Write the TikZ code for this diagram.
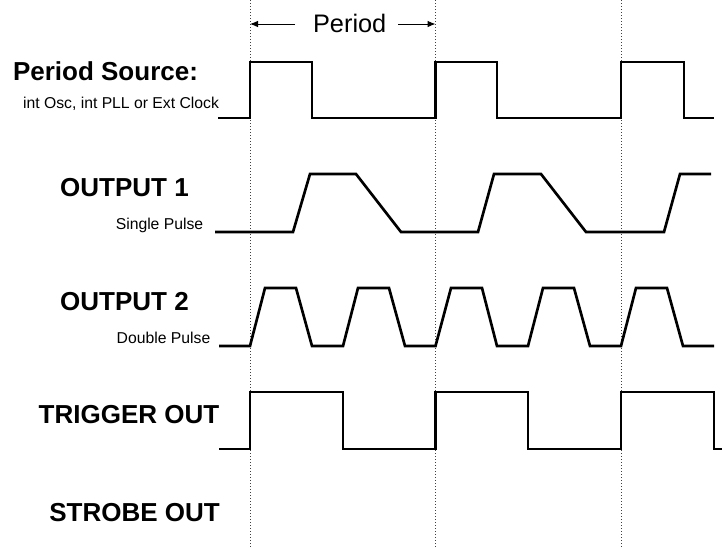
\documentclass[tikz,border=0pt]{standalone}
\usepackage{fontspec}
\setmainfont{Liberation Sans}
\usetikzlibrary{arrows.meta}
\begin{document}
\begin{tikzpicture}[x=0.75pt,y=-0.75pt,
  wave/.style={line width=2pt, line join=miter},
  gridline/.style={line width=0.75pt, dash pattern=on 0.75pt off 1.5pt, black!75},
  big/.style={font=\bfseries\fontsize{19.5}{23}\selectfont, inner sep=0pt, anchor=base},
  small/.style={font=\fontsize{11.8}{14}\selectfont, inner sep=0pt, anchor=base},
  per/.style={font=\fontsize{19}{22}\selectfont, inner sep=0pt, anchor=base},
  parrow/.style={line width=0.75pt, -{Latex[length=6pt,width=5pt]}}
]
\useasboundingbox (0,0) rectangle (722,547);

% period markers
\coordinate (d1t) at (250,0);   \coordinate (d1b) at (250,547);
\coordinate (d2t) at (435.5,0); \coordinate (d2b) at (435.5,547);
\coordinate (d3t) at (621,0);   \coordinate (d3b) at (621,547);
\draw[gridline] (d1t) -- (d1b);
\draw[gridline] (d2t) -- (d2b);
\draw[gridline] (d3t) -- (d3b);

% period dimension
\node[per] (per) at (349.7,32) {Period};
\coordinate (pl) at (295,24);  \coordinate (pla) at (250,24);
\coordinate (pr) at (398,24);  \coordinate (pra) at (435.5,24);
\draw[parrow] (pl) -- (pla);
\draw[parrow] (pr) -- (pra);

% labels
\node[big] (lsrc) at (105.5,80) {Period Source:};
\node[small] (lsrcs) at (121,108) {int Osc, int PLL or Ext Clock};
\node[big] (lo1) at (124.5,196) {OUTPUT 1};
\node[small] (lo1s) at (159.5,229) {Single Pulse};
\node[big] (lo2) at (124.5,310) {OUTPUT 2};
\node[small] (lo2s) at (163.5,343) {Double Pulse};
\node[big] (ltrg) at (129,423) {TRIGGER OUT};
\node[big] (lstb) at (134.5,521) {STROBE OUT};

% Period source
\draw[wave] (218,118) -- (250,118) -- (250,62) -- (312,62) -- (312,118)
  -- (435.5,118) -- (435.5,62) -- (497,62) -- (497,118)
  -- (621,118) -- (621,62) -- (684,62) -- (684,118) -- (714,118);

% Output 1
\draw[wave] (215,232) -- (293,232) -- (310,174) -- (356,174) -- (401,232)
  -- (478,232) -- (494,174) -- (541,174) -- (586,232)
  -- (664,232) -- (680,174) -- (711,174);

% Output 2
\draw[wave] (219,346) -- (250,346) -- (265,288) -- (296,288) -- (312,346)
  -- (343,346) -- (358,288) -- (389,288) -- (405,346)
  -- (435.5,346) -- (451,288) -- (482,288) -- (497,346)
  -- (528,346) -- (543,288) -- (574,288) -- (590,346)
  -- (621,346) -- (636,288) -- (667,288) -- (683,346) -- (714,346);

% Trigger out
\draw[wave] (219,449) -- (250,449) -- (250,392) -- (343,392) -- (343,449)
  -- (435.5,449) -- (435.5,392) -- (528,392) -- (528,449)
  -- (621,449) -- (621,392) -- (714,392) -- (714,449) -- (722,449);
\end{tikzpicture}
\end{document}
